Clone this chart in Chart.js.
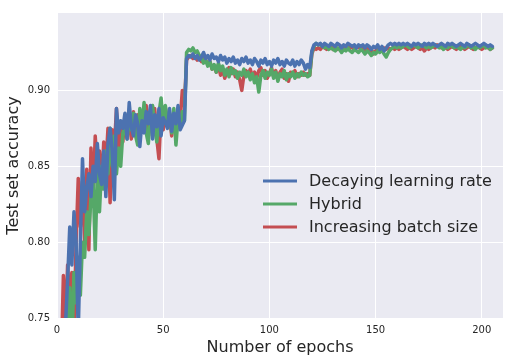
<!DOCTYPE html>
<html>
<head>
<meta charset="utf-8">
<script src="https://cdn.jsdelivr.net/npm/chart.js@4"></script>
<style>
  html, body { margin: 0; padding: 0; background: #fff; }
  #wrap { width: 510px; height: 363px; }
</style>
</head>
<body>
<div id="wrap"><canvas id="accChart" width="510" height="363"></canvas></div>
<script>
// epochs 1..205
const epochs = Array.from({ length: 205 }, (_, i) => i + 1);

const decaying = [
  0.62, 0.68, 0.74, 0.745, 0.775, 0.81, 0.785, 0.82, 0.80, 0.74,
  0.80, 0.855, 0.82, 0.835, 0.845, 0.83, 0.85, 0.84, 0.865, 0.845,
  0.838, 0.86, 0.83, 0.865, 0.875, 0.86, 0.828, 0.888, 0.872, 0.88,
  0.875, 0.885, 0.868, 0.892, 0.876, 0.87, 0.884, 0.878, 0.863, 0.88,
  0.872, 0.886, 0.878, 0.89, 0.868, 0.884, 0.876, 0.888, 0.87, 0.882,
  0.879, 0.875, 0.888, 0.873, 0.885, 0.878, 0.89, 0.874, 0.877, 0.88,
  0.921, 0.923, 0.922, 0.924, 0.921, 0.923, 0.920, 0.922, 0.925, 0.921,
  0.923, 0.920, 0.924, 0.921, 0.922, 0.919, 0.923, 0.920, 0.922, 0.918,
  0.921, 0.919, 0.922, 0.918, 0.920, 0.917, 0.921, 0.919, 0.922, 0.918,
  0.920, 0.917, 0.921, 0.919, 0.916, 0.920, 0.918, 0.921, 0.917, 0.919,
  0.916, 0.920, 0.918, 0.921, 0.917, 0.919, 0.916, 0.920, 0.918, 0.917,
  0.920, 0.916, 0.919, 0.917, 0.920, 0.918, 0.914, 0.917, 0.915, 0.926,
  0.930, 0.931, 0.930, 0.931, 0.929, 0.931, 0.930, 0.929, 0.931, 0.930,
  0.929, 0.931, 0.930, 0.928, 0.930, 0.929, 0.931, 0.930, 0.929, 0.930,
  0.928, 0.930, 0.929, 0.930, 0.928, 0.930, 0.929, 0.927, 0.929, 0.928,
  0.930, 0.927, 0.929, 0.926, 0.928, 0.930, 0.931, 0.930, 0.931, 0.930,
  0.931, 0.930, 0.931, 0.930, 0.931, 0.930, 0.929, 0.931, 0.930, 0.931,
  0.930, 0.929, 0.931, 0.930, 0.931, 0.930, 0.931, 0.930, 0.929, 0.930,
  0.931, 0.930, 0.929, 0.931, 0.930, 0.931, 0.930, 0.929, 0.930, 0.931,
  0.930, 0.929, 0.931, 0.930, 0.929, 0.930, 0.931, 0.930, 0.929, 0.930,
  0.931, 0.930, 0.929, 0.930, 0.929
];

const hybrid = [
  0.60, 0.65, 0.70, 0.72, 0.745, 0.77, 0.73, 0.78, 0.76, 0.79,
  0.765, 0.80, 0.79, 0.82, 0.805, 0.83, 0.84, 0.795, 0.845, 0.82,
  0.85, 0.835, 0.86, 0.845, 0.875, 0.85, 0.87, 0.845, 0.862, 0.85,
  0.872, 0.876, 0.868, 0.88, 0.874, 0.885, 0.87, 0.864, 0.888, 0.876,
  0.892, 0.872, 0.865, 0.884, 0.89, 0.875, 0.866, 0.885, 0.895, 0.878,
  0.89, 0.88, 0.885, 0.872, 0.888, 0.864, 0.882, 0.876, 0.886, 0.88,
  0.925, 0.927, 0.926, 0.928, 0.925, 0.926, 0.923, 0.922, 0.918, 0.920,
  0.916, 0.919, 0.914, 0.917, 0.912, 0.918, 0.913, 0.916, 0.910, 0.914,
  0.909, 0.915, 0.911, 0.913, 0.908, 0.912, 0.910, 0.914, 0.909, 0.912,
  0.907, 0.911, 0.905, 0.909, 0.899, 0.910, 0.913, 0.908, 0.912, 0.910,
  0.914, 0.908, 0.912, 0.906, 0.911, 0.909, 0.913, 0.907, 0.911, 0.909,
  0.912, 0.908, 0.911, 0.909, 0.912, 0.910, 0.911, 0.909, 0.910, 0.925,
  0.929, 0.931, 0.930, 0.930, 0.929, 0.928, 0.929, 0.927, 0.928, 0.927,
  0.926, 0.928, 0.927, 0.925, 0.927, 0.926, 0.928, 0.926, 0.925, 0.927,
  0.926, 0.925, 0.927, 0.926, 0.924, 0.926, 0.925, 0.923, 0.925, 0.924,
  0.926, 0.925, 0.927, 0.924, 0.922, 0.925, 0.927, 0.928, 0.929, 0.928,
  0.929, 0.928, 0.929, 0.930, 0.929, 0.928, 0.929, 0.930, 0.929, 0.928,
  0.929, 0.930, 0.929, 0.928, 0.929, 0.928, 0.929, 0.930, 0.929, 0.928,
  0.929, 0.927, 0.929, 0.928, 0.930, 0.929, 0.928, 0.929, 0.928, 0.927,
  0.929, 0.928, 0.929, 0.930, 0.928, 0.929, 0.927, 0.929, 0.928, 0.929,
  0.930, 0.928, 0.929, 0.927, 0.928
];

const increasing = [
  0.66, 0.72, 0.778, 0.745, 0.785, 0.76, 0.78, 0.74, 0.80, 0.842,
  0.81, 0.84, 0.80, 0.848, 0.795, 0.862, 0.83, 0.87, 0.845, 0.86,
  0.835, 0.866, 0.85, 0.875, 0.826, 0.874, 0.862, 0.888, 0.858, 0.878,
  0.866, 0.883, 0.875, 0.88, 0.868, 0.886, 0.872, 0.884, 0.87, 0.882,
  0.876, 0.89, 0.872, 0.885, 0.87, 0.888, 0.868, 0.855, 0.886, 0.874,
  0.889, 0.876, 0.884, 0.87, 0.882, 0.878, 0.886, 0.88, 0.90, 0.89,
  0.920, 0.922, 0.923, 0.921, 0.922, 0.920, 0.921, 0.919, 0.921, 0.920,
  0.917, 0.919, 0.914, 0.916, 0.912, 0.917, 0.910, 0.914, 0.908, 0.913,
  0.915, 0.911, 0.914, 0.909, 0.912, 0.907, 0.900, 0.910, 0.913, 0.911,
  0.914, 0.909, 0.912, 0.908, 0.913, 0.915, 0.910, 0.913, 0.908, 0.911,
  0.915, 0.909, 0.913, 0.907, 0.912, 0.914, 0.908, 0.911, 0.906, 0.912,
  0.910, 0.913, 0.909, 0.911, 0.910, 0.912, 0.910, 0.911, 0.910, 0.924,
  0.928, 0.927, 0.928, 0.927, 0.929, 0.928, 0.927, 0.928, 0.929, 0.927,
  0.928, 0.927, 0.928, 0.929, 0.927, 0.928, 0.927, 0.929, 0.928, 0.927,
  0.928, 0.929, 0.927, 0.928, 0.926, 0.928, 0.925, 0.927, 0.924, 0.926,
  0.928, 0.927, 0.926, 0.928, 0.927, 0.928, 0.927, 0.928, 0.927, 0.928,
  0.927, 0.928, 0.929, 0.928, 0.927, 0.928, 0.927, 0.928, 0.929, 0.928,
  0.927, 0.928, 0.926, 0.928, 0.927, 0.928, 0.929, 0.928, 0.930, 0.929,
  0.928, 0.929, 0.928, 0.927, 0.928, 0.929, 0.928, 0.927, 0.928, 0.929,
  0.928, 0.927, 0.928, 0.929, 0.928, 0.927, 0.928, 0.929, 0.928, 0.927,
  0.928, 0.929, 0.928, 0.927, 0.928
];

const seriesNames = ['Decaying learning rate', 'Hybrid', 'Increasing batch size'];
const xTicks = [0, 50, 100, 150, 200];
const yTicks = [0.75, 0.80, 0.85, 0.90];

const FONT = "'DejaVu Sans', sans-serif";
const TEXT = '#262626';

function pts(vals) {
  return vals.map((v, i) => ({ x: epochs[i], y: v }));
}

// grey panel behind the plot (seaborn darkgrid)
const panelBg = {
  id: 'panelBg',
  beforeDraw(chart) {
    const a = chart.chartArea;
    const ctx = chart.ctx;
    ctx.save();
    ctx.fillStyle = '#EAEAF2';
    ctx.fillRect(a.left, a.top, a.right - a.left, a.bottom - a.top);
    ctx.restore();
  }
};

// legend inside the axes, lower right, no frame
const innerLegend = {
  id: 'innerLegend',
  afterDraw(chart) {
    const ctx = chart.ctx;
    ctx.save();
    ctx.font = '16px ' + FONT;
    ctx.textBaseline = 'middle';
    chart.data.datasets.forEach((ds, i) => {
      const y = 181 + i * 23;
      ctx.strokeStyle = ds.borderColor;
      ctx.lineWidth = 3;
      ctx.beginPath();
      ctx.moveTo(263, y);
      ctx.lineTo(297, y);
      ctx.stroke();
      ctx.fillStyle = TEXT;
      ctx.fillText(ds.label, 309, y + 1);
    });
    ctx.restore();
  }
};

new Chart(document.getElementById('accChart').getContext('2d'), {
  type: 'line',
  data: {
    datasets: [
      { label: seriesNames[0], data: pts(decaying), borderColor: '#4C72B0' },
      { label: seriesNames[1], data: pts(hybrid), borderColor: '#55A868' },
      { label: seriesNames[2], data: pts(increasing), borderColor: '#C44E52' }
    ]
  },
  options: {
    responsive: false,
    animation: false,
    datasets: {
      line: {
        borderWidth: 3.5,
        pointRadius: 0,
        tension: 0,
        fill: false,
        borderJoinStyle: 'round',
        borderCapStyle: 'round'
      }
    },
    layout: { padding: { top: 12, right: 7, left: 0, bottom: 0 } },
    plugins: {
      legend: { display: false },
      tooltip: { enabled: false }
    },
    scales: {
      x: {
        type: 'linear',
        min: 0,
        max: 210,
        afterBuildTicks: axis => { axis.ticks = xTicks.map(v => ({ value: v })); },
        afterFit: axis => { axis.height = 45; },
        grid: { color: '#ffffff', lineWidth: 1, drawTicks: false },
        border: { display: false },
        ticks: { color: TEXT, font: { family: FONT, size: 10 }, padding: 6, maxRotation: 0 },
        title: { display: true, text: 'Number of epochs', color: TEXT, font: { family: FONT, size: 16 }, padding: { top: 0, bottom: 6 } }
      },
      y: {
        type: 'linear',
        min: 0.75,
        max: 0.951,
        afterBuildTicks: axis => { axis.ticks = yTicks.map(v => ({ value: v })); },
        afterFit: axis => { axis.width = 57; },
        grid: { color: '#ffffff', lineWidth: 1, drawTicks: false },
        border: { display: false },
        ticks: {
          color: TEXT,
          font: { family: FONT, size: 10 },
          padding: 7,
          callback: v => v.toFixed(2)
        },
        title: { display: true, text: 'Test set accuracy', color: TEXT, font: { family: FONT, size: 16 }, padding: { top: 4, bottom: 0 } }
      }
    }
  },
  plugins: [panelBg, innerLegend]
});
</script>
</body>
</html>
